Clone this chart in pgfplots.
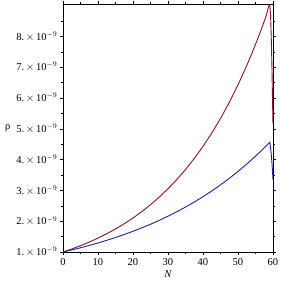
\documentclass[border=0pt]{standalone}
\usepackage{pgfplots}
\pgfplotsset{compat=1.18}
\usepackage{fontspec}
\setmainfont{Liberation Serif}
\definecolor{mred}{RGB}{140,18,40}
\definecolor{mblue}{RGB}{25,35,150}
\begin{document}
\begin{tikzpicture}
\begin{axis}[name=ax,
  scale only axis, width=210pt, height=248pt,
  xmin=0, xmax=60, ymin=1, ymax=9.05,
  axis line style={line width=0.7pt},
  tick style={black, line width=0.5pt},
  tick align=outside,
  xtick={0,10,20,30,40,50,60},
  minor xtick={5,15,25,35,45,55},
  ytick={1,2,3,4,5,6,7,8},
  minor ytick={1.5,2.5,3.5,4.5,5.5,6.5,7.5,8.5},
  yticklabels={{1.\,$\times$\,10$^{-9}$},{2.\,$\times$\,10$^{-9}$},{3.\,$\times$\,10$^{-9}$},{4.\,$\times$\,10$^{-9}$},{5.\,$\times$\,10$^{-9}$},{6.\,$\times$\,10$^{-9}$},{7.\,$\times$\,10$^{-9}$},{8.\,$\times$\,10$^{-9}$}},
  /pgf/number format/assume math mode=true,
  tick label style={font=\fontsize{10.5}{12}\selectfont},
  yticklabel style={xshift=1pt},
  major tick length=3pt, minor tick length=2pt,
  xlabel={\textit{N}}, xlabel style={font=\fontsize{10.5}{12}\selectfont, yshift=2pt},
  ylabel={ρ}, ylabel style={font=\fontsize{10.5}{12}\selectfont, rotate=-90, xshift=1pt},
]
\addplot[mred, line width=0.9pt] coordinates {
(0,1) (2.5,1.0975) (5,1.204) (7.5,1.3218) (10,1.451) (12.5,1.592) (15,1.747) (17.5,1.9175) (20,2.104) (22.5,2.309) (25,2.535) (27.5,2.782) (30,3.053) (32.5,3.350) (35,3.677) (37.5,4.035) (40,4.428) (42.5,4.860) (45,5.333) (47.5,5.853) (50,6.424) (52.5,7.050) (55,7.737) (56,8.03) (57,8.334) (58,8.65) (58.8,8.98) (59.1,9.02) (59.3,8.7) (59.5,8.0) (59.7,7.0) (59.85,6.0) (60,5.15)
};
\addplot[mblue, line width=0.9pt] coordinates {
(0,1) (2.5,1.0664) (5,1.137) (7.5,1.2126) (10,1.293) (12.5,1.3789) (15,1.470) (17.5,1.568) (20,1.672) (22.5,1.783) (25,1.901) (27.5,2.027) (30,2.162) (32.5,2.3055) (35,2.458) (37.5,2.6215) (40,2.795) (42.5,2.981) (45,3.179) (47.5,3.390) (50,3.615) (52.5,3.855) (55,4.110) (56,4.217) (57,4.327) (58,4.44) (59.1,4.56) (59.4,4.3) (59.7,3.9) (60,3.35)
};
\end{axis}
\pgfresetboundingbox
\path[use as bounding box] ([xshift=-63pt,yshift=-30pt]ax.south west) rectangle ([xshift=9pt,yshift=4pt]ax.north east);
\end{tikzpicture}
\end{document}
